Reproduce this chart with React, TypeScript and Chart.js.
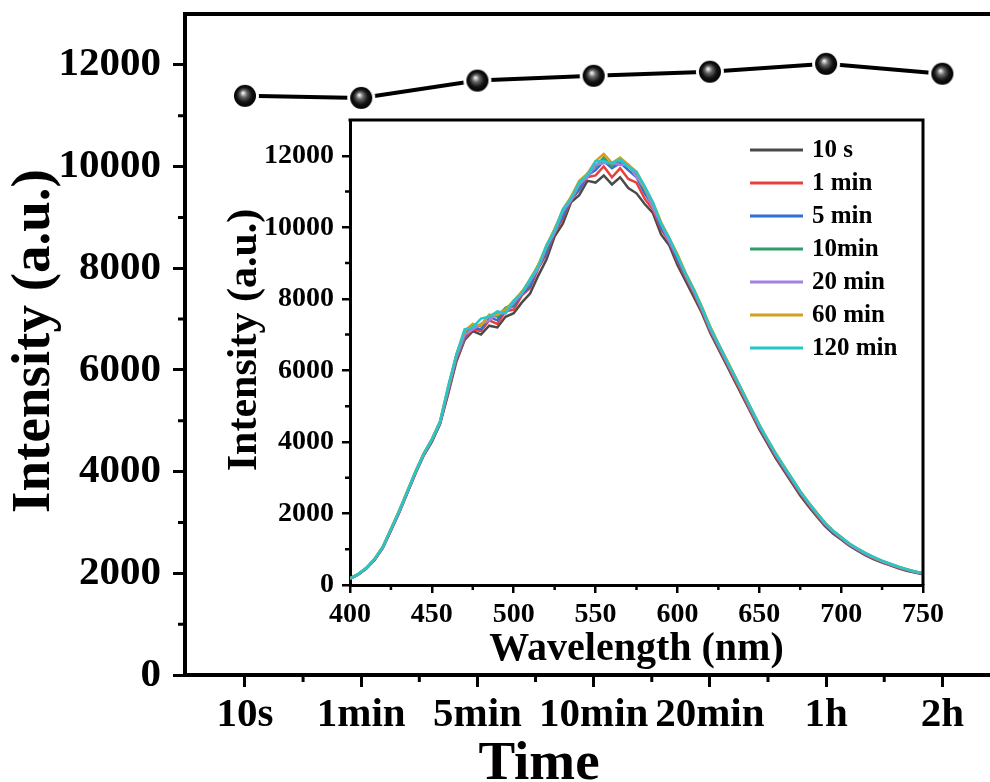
import React, { useEffect, useRef } from 'react';
import { Chart, registerables } from 'chart.js';
Chart.register(...registerables);

const SERIF = '"Liberation Serif", "Times New Roman", serif';

// ---------- main chart data ----------
const timeLabels = ['10s', '1min', '5min', '10min', '20min', '1h', '2h'];
const timeIntensity = [11390, 11350, 11690, 11785, 11865, 12020, 11825];
const mainYTicks = [0, 2000, 4000, 6000, 8000, 10000, 12000];
const mainYMinor = [1000, 3000, 5000, 7000, 9000, 11000];
const mainXMinor = [0.5, 1.5, 2.5, 3.5, 4.5, 5.5];

// ---------- inset data ----------
const wavelengths = [
  400, 405, 410, 415, 420, 425, 430, 435, 440, 445, 450, 455, 460, 465, 470, 475, 480, 485,
  490, 495, 500, 505, 510, 515, 520, 525, 530, 535, 540, 545, 550, 555, 560, 565, 570, 575,
  580, 585, 590, 595, 600, 605, 610, 615, 620, 625, 630, 635, 640, 645, 650, 655, 660, 665,
  670, 675, 680, 685, 690, 695, 700, 705, 710, 715, 720, 725, 730, 735, 740, 745, 750,
];
const spec10s = [
  170, 290, 460, 700, 1030, 1520, 2020, 2570, 3120, 3620, 4000, 4500, 5350, 6250,
  6850, 7100, 7000, 7250, 7200, 7500, 7600, 7900, 8150, 8650, 9100, 9750, 10100, 10700, 10900, 11300,
  11250, 11450, 11200, 11400, 11100, 10950, 10650, 10400, 9800, 9500, 8950,
  8500, 8050, 7600, 7050, 6600, 6150, 5700, 5250, 4800, 4350, 3950, 3550, 3200,
  2850, 2500, 2200, 1920, 1650, 1440, 1270, 1100, 960, 830, 720, 630, 550, 470, 400, 350, 300,
];
const spec1min = [
  180, 300, 470, 710, 1040, 1530, 2030, 2580, 3130, 3640, 4050, 4520, 5400, 6300,
  6900, 7150, 7100, 7400, 7300, 7650, 7700, 8100, 8300, 8850, 9250, 9850, 10250, 10750, 11050, 11400,
  11450, 11700, 11400, 11650, 11350, 11250, 10800, 10500, 9950, 9600, 9050,
  8600, 8150, 7650, 7100, 6650, 6200, 5750, 5300, 4830, 4400, 4000, 3600, 3250,
  2900, 2560, 2250, 1960, 1690, 1470, 1290, 1120, 980, 850, 740, 640, 560, 480, 415, 360, 310,
];
const spec5min = [
  175, 295, 465, 715, 1045, 1545, 2045, 2590, 3140, 3650, 4040, 4530, 5450, 6350,
  6950, 7200, 7150, 7500, 7400, 7700, 7800, 8150, 8350, 8900, 9300, 9900, 10300, 10800, 11050, 11450,
  11600, 11850, 11650, 11800, 11600, 11400, 10950, 10600, 10000, 9650, 9100,
  8650, 8200, 7700, 7150, 6700, 6250, 5800, 5350, 4880, 4430, 4030, 3630, 3280,
  2930, 2590, 2280, 1990, 1710, 1490, 1310, 1130, 990, 860, 750, 650, 570, 490, 425, 365, 315,
];
const spec10min = [
  185, 305, 475, 725, 1060, 1560, 2060, 2610, 3160, 3660, 4060, 4560, 5500, 6420,
  7050, 7250, 7250, 7550, 7500, 7750, 7850, 8200, 8450, 8950, 9400, 9950, 10400, 10850, 11150, 11500,
  11700, 11950, 11700, 11900, 11700, 11500, 11050, 10650, 10100, 9650, 9200,
  8680, 8230, 7720, 7180, 6720, 6270, 5820, 5370, 4910, 4460, 4060, 3660, 3310,
  2960, 2610, 2300, 2010, 1730, 1510, 1330, 1150, 1010, 880, 770, 670, 590, 505, 435, 375, 325,
];
const spec20min = [
  180, 300, 470, 720, 1050, 1550, 2050, 2600, 3150, 3650, 4050, 4540, 5480, 6380,
  7000, 7150, 7300, 7400, 7600, 7600, 7900, 8150, 8500, 8850, 9450, 9850, 10450, 10750, 11200, 11400,
  11750, 11800, 11800, 11750, 11750, 11400, 11100, 10550, 10100, 9600, 9200,
  8670, 8210, 7710, 7160, 6710, 6260, 5810, 5360, 4900, 4450, 4050, 3650, 3300,
  2950, 2600, 2290, 2000, 1720, 1500, 1320, 1140, 1000, 870, 760, 660, 580, 500, 430, 370, 320,
];
const spec60min = [
  190, 310, 480, 730, 1070, 1570, 2080, 2630, 3180, 3680, 4080, 4580, 5550, 6450,
  7100, 7300, 7250, 7550, 7550, 7700, 7950, 8200, 8550, 8950, 9500, 9950, 10500, 10850, 11300, 11500,
  11850, 12050, 11800, 11950, 11750, 11550, 11100, 10700, 10150, 9700, 9250,
  8730, 8280, 7780, 7230, 6760, 6310, 5860, 5400, 4940, 4490, 4080, 3690, 3330,
  2980, 2630, 2320, 2030, 1750, 1520, 1340, 1160, 1020, 890, 775, 675, 590, 510, 440, 380, 330,
];
const spec120min = [
  185, 305, 480, 730, 1065, 1565, 2070, 2620, 3170, 3670, 4070, 4570, 5560, 6450,
  7150, 7200, 7450, 7500, 7650, 7600, 7950, 8150, 8550, 8900, 9500, 9900, 10500, 10800, 11250, 11450,
  11850, 11850, 11800, 11900, 11700, 11550, 11150, 10700, 10100, 9700, 9200,
  8700, 8250, 7750, 7200, 6740, 6290, 5840, 5390, 4930, 4480, 4070, 3680, 3320,
  2970, 2620, 2310, 2020, 1740, 1520, 1340, 1160, 1020, 890, 780, 680, 595, 515, 445, 380, 330,
];
const seriesNames = ['10 s', '1 min', '5 min', '10min', '20 min', '60 min', '120 min'];
const seriesData = [spec10s, spec1min, spec5min, spec10min, spec20min, spec60min, spec120min];
const seriesColors = ['#4a4a4a', '#e8413c', '#2f6fd6', '#2f9e6b', '#a77fe2', '#d2a01c', '#26c6c9'];
const insetXTicks = [400, 450, 500, 550, 600, 650, 700, 750];
const insetXMinor = [425, 475, 525, 575, 625, 675, 725];
const insetYTicks = [0, 2000, 4000, 6000, 8000, 10000, 12000];
const insetYMinor = [1000, 3000, 5000, 7000, 9000, 11000];

function makeSphere(r: number, ring: number): HTMLCanvasElement {
  const size = (r + ring) * 2 + 2;
  const c = document.createElement('canvas');
  c.width = size;
  c.height = size;
  const g = c.getContext('2d')!;
  const cx = size / 2;
  g.fillStyle = '#fff';
  g.beginPath();
  g.arc(cx, cx, r + ring, 0, Math.PI * 2);
  g.fill();
  const grad = g.createRadialGradient(cx - 2, cx - 3, 0.5, cx, cx, r);
  grad.addColorStop(0, '#f0f0f0');
  grad.addColorStop(0.3, '#666');
  grad.addColorStop(0.65, '#151515');
  grad.addColorStop(1, '#000');
  g.fillStyle = grad;
  g.beginPath();
  g.arc(cx, cx, r, 0, Math.PI * 2);
  g.fill();
  return c;
}

function zeroPad(s: any) {
  s.paddingTop = 0;
  s.paddingBottom = 0;
  s.paddingLeft = 0;
  s.paddingRight = 0;
}

const mainDecor = {
  id: 'mainDecor',
  afterDraw(chart: any) {
    const { ctx, chartArea, scales } = chart;
    const { left, right, top, bottom } = chartArea;
    const x = scales.x;
    const y = scales.y;
    ctx.save();
    ctx.strokeStyle = '#000';
    ctx.lineWidth = 4;
    ctx.beginPath();
    ctx.moveTo(left - 2, top);
    ctx.lineTo(right, top);
    ctx.stroke();
    ctx.lineWidth = 3;
    ctx.beginPath();
    mainXMinor.forEach((v) => {
      const px = x.getPixelForValue(v);
      ctx.moveTo(px, bottom);
      ctx.lineTo(px, bottom + 7);
    });
    mainYMinor.forEach((v) => {
      const py = y.getPixelForValue(v);
      ctx.moveTo(left, py);
      ctx.lineTo(left - 7, py);
    });
    ctx.stroke();
    ctx.fillStyle = '#000';
    ctx.font = `bold 55px ${SERIF}`;
    ctx.textAlign = 'center';
    ctx.textBaseline = 'alphabetic';
    ctx.fillText('Time', 539, 779);
    ctx.translate(49, 341);
    ctx.rotate(-Math.PI / 2);
    ctx.fillText('Intensity (a.u.)', 0, 0);
    ctx.restore();
  },
};

const insetDecor = {
  id: 'insetDecor',
  afterDraw(chart: any) {
    const { ctx, chartArea, scales } = chart;
    const { left, right, top, bottom } = chartArea;
    const x = scales.x;
    const y = scales.y;
    ctx.save();
    ctx.strokeStyle = '#000';
    ctx.lineWidth = 3;
    ctx.beginPath();
    ctx.moveTo(left - 1.5, top);
    ctx.lineTo(right, top);
    ctx.lineTo(right, bottom);
    ctx.stroke();
    ctx.lineWidth = 2.5;
    ctx.beginPath();
    insetXMinor.forEach((v) => {
      const px = x.getPixelForValue(v);
      ctx.moveTo(px, bottom);
      ctx.lineTo(px, bottom + 5);
    });
    insetYMinor.forEach((v) => {
      const py = y.getPixelForValue(v);
      ctx.moveTo(left, py);
      ctx.lineTo(left - 5, py);
    });
    ctx.stroke();
    // legend
    const ds = chart.data.datasets;
    ctx.font = `bold 25px ${SERIF}`;
    ctx.textAlign = 'left';
    ctx.textBaseline = 'middle';
    ds.forEach((d: any, i: number) => {
      const ly = top + 30 + i * 33;
      ctx.strokeStyle = d.borderColor;
      ctx.lineWidth = 3;
      ctx.beginPath();
      ctx.moveTo(550, ly);
      ctx.lineTo(603, ly);
      ctx.stroke();
      ctx.fillStyle = '#000';
      ctx.fillText(d.label, 612, ly + 1);
    });
    // axis titles
    ctx.fillStyle = '#000';
    ctx.font = `bold 40px ${SERIF}`;
    ctx.textAlign = 'center';
    ctx.textBaseline = 'alphabetic';
    ctx.fillText('Wavelength (nm)', (left + right) / 2, 560);
    ctx.font = `bold 42px ${SERIF}`;
    ctx.translate(56, 240);
    ctx.rotate(-Math.PI / 2);
    ctx.fillText('Intensity (a.u.)', 0, 0);
    ctx.restore();
  },
};

export default function App() {
  const mainRef = useRef<HTMLCanvasElement>(null);
  const insetRef = useRef<HTMLCanvasElement>(null);

  useEffect(() => {
    const sphere = makeSphere(11, 3);
    const main = new Chart(mainRef.current!, {
      type: 'line',
      data: {
        datasets: [
          {
            label: 'Intensity',
            data: timeIntensity.map((v, i) => ({ x: i, y: v })),
            borderColor: '#000',
            borderWidth: 4,
            pointStyle: sphere as any,
            pointRadius: 12,
            tension: 0,
            clip: false as any,
          },
        ],
      },
      options: {
        responsive: false,
        animation: false,
        events: [],
        layout: { autoPadding: false, padding: { top: 14, right: 0, left: 0, bottom: 0 } },
        plugins: { legend: { display: false }, tooltip: { enabled: false } },
        scales: {
          x: {
            type: 'linear',
            min: -0.516,
            max: 6.41,
            afterBuildTicks: (s: any) => {
              s.ticks = timeLabels.map((_, i) => ({ value: i }));
            },
            afterFit: (s: any) => {
              s.height = 107;
              zeroPad(s);
            },
            grid: { display: true, drawOnChartArea: false, drawTicks: true, tickLength: 12, lineWidth: 3, color: '#000' },
            border: { display: true, width: 4, color: '#000' },
            ticks: {
              autoSkip: false,
              maxRotation: 0,
              padding: 4,
              color: '#000',
              font: { family: SERIF, size: 41, weight: 'bold' },
              callback: (v: any) => timeLabels[Math.round(Number(v))] ?? '',
            },
          },
          y: {
            type: 'linear',
            min: 0,
            max: 13000,
            afterBuildTicks: (s: any) => {
              s.ticks = mainYTicks.map((v) => ({ value: v }));
            },
            afterFit: (s: any) => {
              s.width = 185;
              zeroPad(s);
            },
            grid: { display: true, drawOnChartArea: false, drawTicks: true, tickLength: 12, lineWidth: 3, color: '#000' },
            border: { display: true, width: 4, color: '#000' },
            ticks: {
              padding: 12,
              color: '#000',
              font: { family: SERIF, size: 41, weight: 'bold' },
              callback: (v: any) => String(v),
            },
          },
        },
      },
      plugins: [mainDecor],
    });

    const inset = new Chart(insetRef.current!, {
      type: 'line',
      data: {
        datasets: seriesData.map((arr, i) => ({
          label: seriesNames[i],
          data: arr.map((v, j) => ({ x: wavelengths[j], y: v })),
          borderColor: seriesColors[i],
          backgroundColor: seriesColors[i],
          borderWidth: 2.5,
          pointRadius: 0,
          tension: 0,
          order: seriesData.length - 1 - i,
        })),
      },
      options: {
        responsive: false,
        animation: false,
        events: [],
        layout: { autoPadding: false, padding: { top: 20, right: 37, left: 0, bottom: 0 } },
        plugins: { legend: { display: false }, tooltip: { enabled: false } },
        scales: {
          x: {
            type: 'linear',
            min: 400,
            max: 750,
            afterBuildTicks: (s: any) => {
              s.ticks = insetXTicks.map((v) => ({ value: v }));
            },
            afterFit: (s: any) => {
              s.height = 90;
              zeroPad(s);
            },
            grid: { display: true, drawOnChartArea: false, drawTicks: true, tickLength: 8, lineWidth: 2.5, color: '#000' },
            border: { display: true, width: 3, color: '#000' },
            ticks: {
              autoSkip: false,
              maxRotation: 0,
              padding: 5,
              color: '#000',
              font: { family: SERIF, size: 28, weight: 'bold' },
              callback: (v: any) => String(v),
            },
          },
          y: {
            type: 'linear',
            min: 0,
            max: 13000,
            afterBuildTicks: (s: any) => {
              s.ticks = insetYTicks.map((v) => ({ value: v }));
            },
            afterFit: (s: any) => {
              s.width = 150;
              zeroPad(s);
            },
            grid: { display: true, drawOnChartArea: false, drawTicks: true, tickLength: 8, lineWidth: 2.5, color: '#000' },
            border: { display: true, width: 3, color: '#000' },
            ticks: {
              padding: 8,
              color: '#000',
              font: { family: SERIF, size: 28, weight: 'bold' },
              callback: (v: any) => String(v),
            },
          },
        },
      },
      plugins: [insetDecor],
    });

    return () => {
      main.destroy();
      inset.destroy();
    };
  }, []);

  return (
    <div style={{ position: 'absolute', left: 0, top: 0, width: 990, height: 782, background: '#fff', overflow: 'hidden' }}>
      <canvas ref={mainRef} width={990} height={782} style={{ position: 'absolute', left: 0, top: 0, display: 'block' }} />
      <canvas ref={insetRef} width={760} height={575} style={{ position: 'absolute', left: 200, top: 100, display: 'block' }} />
    </div>
  );
}
